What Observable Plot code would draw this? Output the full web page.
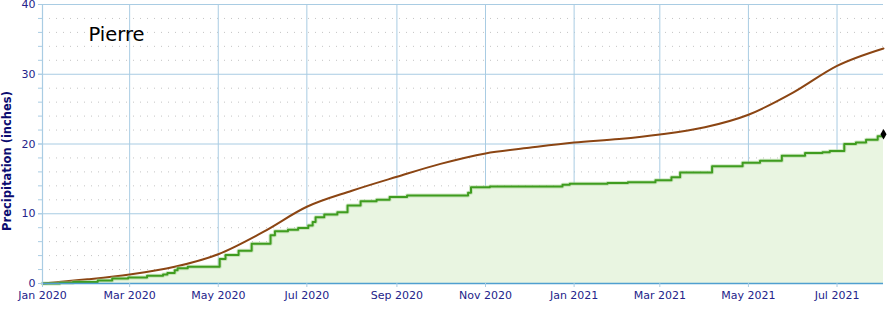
<!DOCTYPE html>
<html>
<head>
<meta charset="utf-8">
<script src="https://cdn.jsdelivr.net/npm/d3@7"></script>
<script src="https://cdn.jsdelivr.net/npm/@observablehq/plot@0.6"></script>
<style>
  body { margin: 0; background: #fff; }
  svg { display: block; }
</style>
</head>
<body>
<div id="chart"></div>
<script>
// Observed cumulative precipitation (step series), date -> inches
const obsDates = ["2020-01-01","2020-01-13","2020-01-22","2020-02-08","2020-02-18","2020-02-29","2020-03-13","2020-03-24","2020-03-27","2020-04-01","2020-04-03","2020-04-10","2020-05-02","2020-05-06","2020-05-15","2020-05-24","2020-06-06","2020-06-09","2020-06-18","2020-06-25","2020-07-02","2020-07-05","2020-07-07","2020-07-13","2020-07-22","2020-07-29","2020-08-07","2020-08-18","2020-08-27","2020-09-08","2020-10-20","2020-10-22","2020-11-04","2020-12-24","2020-12-29","2021-01-24","2021-02-07","2021-02-26","2021-03-09","2021-03-15","2021-04-06","2021-04-27","2021-05-09","2021-05-24","2021-06-09","2021-06-21","2021-06-26","2021-07-06","2021-07-14","2021-07-21","2021-07-29","2021-08-02"];
const obsValues = [0,0.1,0.2,0.43,0.7,0.85,1.1,1.3,1.5,1.9,2.2,2.4,3.5,4.1,4.7,5.7,6.9,7.5,7.7,7.95,8.3,8.8,9.5,9.9,10.2,11.2,11.8,12.0,12.4,12.6,13.0,13.8,13.9,14.15,14.3,14.4,14.5,14.8,15.25,15.9,16.8,17.3,17.6,18.3,18.7,18.8,19.0,20.0,20.2,20.6,21.1,21.4];

// Normal cumulative precipitation (smooth curve)
const normDates = ["2020-01-01","2020-02-01","2020-03-01","2020-04-01","2020-05-01","2020-06-01","2020-07-01","2020-08-01","2020-09-01","2020-10-01","2020-11-01","2020-12-01","2021-01-01","2021-02-01","2021-03-01","2021-04-01","2021-05-01","2021-06-01","2021-07-01","2021-08-02"];
const normValues = [0,0.6,1.3,2.4,4.2,7.4,11.0,13.3,15.3,17.15,18.65,19.45,20.2,20.7,21.35,22.4,24.2,27.4,31.2,33.7];

const xTickDates = ["2020-01-01","2020-03-01","2020-05-01","2020-07-01","2020-09-01","2020-11-01","2021-01-01","2021-03-01","2021-05-01","2021-07-01"];
const yMajorTicks = [0,10,20,30,40];
const yMinorTicks = [2,4,6,8,12,14,16,18,22,24,26,28,32,34,36,38];
const yAllTicks = d3.range(0, 41, 2);
const titleText = "Pierre";
const yAxisTitle = "Precipitation (inches)";

const obs = obsDates.map((d, i) => ({date: new Date(d), value: obsValues[i]}));
const norm = normDates.map((d, i) => ({date: new Date(d), value: normValues[i]}));
const xTicks = xTickDates.map(d => new Date(d));
const xDomain = [new Date("2020-01-01"), new Date("2021-08-02")];

const gridBlue = "#a9cce3";
const labelColor = "#23238a";

const chart = Plot.plot({
  width: 887,
  height: 310,
  marginLeft: 42,
  marginRight: 4,
  marginTop: 4,
  marginBottom: 27,
  style: {fontFamily: "DejaVu Sans, Verdana, sans-serif", background: "#fff", overflow: "visible"},
  x: {type: "utc", domain: xDomain, axis: null},
  y: {domain: [0, 40], axis: null},
  marks: [
    Plot.gridY(yMinorTicks, {stroke: "#c4c4c4", strokeOpacity: 1, strokeDasharray: "1,6"}),
    Plot.gridY(yMajorTicks, {stroke: gridBlue, strokeOpacity: 1}),
    Plot.gridX(xTicks, {stroke: gridBlue, strokeOpacity: 1}),
    Plot.areaY(obs, {x: "date", y: "value", curve: "step-after", fill: "#e9f5e1"}),
    Plot.line(norm, {x: "date", y: "value", curve: "monotone-x", stroke: "#8b4513", strokeWidth: 2}),
    Plot.line(obs, {x: "date", y: "value", curve: "step-after", stroke: "#a6d48f", strokeWidth: 4, strokeOpacity: 0.5}),
    Plot.line(obs, {x: "date", y: "value", curve: "step-after", stroke: "#3f9c1f", strokeWidth: 2}),
    Plot.dot(obs.slice(-1), {x: "date", y: "value", symbol: "diamond", fill: "black", r: 3.2}),
    Plot.ruleX([xDomain[0]], {stroke: gridBlue, strokeWidth: 1.2}),
    Plot.ruleY([0], {stroke: "#4f9fd0", strokeWidth: 1.5}),
    Plot.axisY(yAllTicks, {tickSize: 4, tickFormat: () => "", stroke: gridBlue, fill: labelColor, label: null}),
    Plot.axisY(yMajorTicks, {tickSize: 4, tickPadding: 3, stroke: gridBlue, fill: labelColor, fontSize: 11, label: null}),
    Plot.axisX(xTicks, {tickSize: 4, tickPadding: 4, tickFormat: d3.utcFormat("%b %Y"), stroke: gridBlue, fill: labelColor, fontSize: 11, label: null}),
    Plot.text([titleText], {frameAnchor: "top-left", dx: 46, dy: 23, fontSize: 19.5, fill: "#000", text: d => d}),
    Plot.text([yAxisTitle], {frameAnchor: "left", textAnchor: "middle", rotate: -90, dx: -35, dy: 17, fontSize: 11.5, fontWeight: "bold", fill: "#0b0b70", text: d => d})
  ]
});
document.getElementById("chart").appendChild(chart);
</script>
</body>
</html>
